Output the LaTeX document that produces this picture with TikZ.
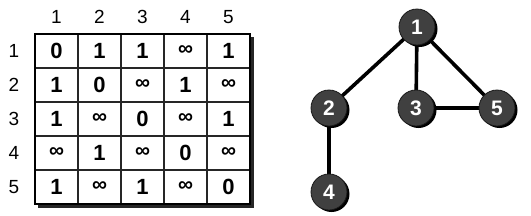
\documentclass[tikz,border=0pt]{standalone}
\usepackage{fontspec}
\setmainfont{Liberation Sans}
\begin{document}
\begin{tikzpicture}[x=1pt,y=-1pt,
  cell/.style={draw=black!85,line width=1.2pt,minimum width=43pt,minimum height=34pt,inner sep=0pt,font=\fontsize{22}{22}\selectfont\bfseries},
  lab/.style={inner sep=0pt,font=\fontsize{19}{19}\selectfont},
  vert/.style={circle,fill=black!75,draw=black!90,line width=0.8pt,minimum size=36pt,inner sep=0pt,text=white,font=\fontsize{21}{21}\selectfont\bfseries},
  vshadow/.style={circle,fill=black,minimum size=36pt,inner sep=0pt},
  edge/.style={line width=3.6pt,black}]
\useasboundingbox (0,0) rectangle (531,215);
% shadow of table
\fill[black!85] (38,37) rectangle (253.5,207.5);
\fill[white] (35,34) rectangle (250,204);
% cells
\def\inf{{\fontsize{21}{21}\selectfont ∞}}
\foreach \r/\row in {1/{0,1,1,\inf,1},2/{1,0,\inf,1,\inf},3/{1,\inf,0,\inf,1},4/{\inf,1,\inf,0,\inf},5/{1,\inf,1,\inf,0}}{
  \foreach \v [count=\c] in \row {
    \node[cell] (c\r\c) at ({35+43*(\c-0.5)},{34+34*(\r-0.5)}) {\v};
  }
}
\draw[line width=1.8pt] (35,34) rectangle (250,204);
% labels
\foreach \i in {1,...,5}{
  \node[lab] (h\i) at ({35+43*(\i-0.5)},17) {\i};
  \node[lab] (r\i) at (14,{34+34*(\i-0.5)}) {\i};
}
% graph
\coordinate (p1) at (417,27);
\coordinate (p2) at (329,108);
\coordinate (p3) at (416,108);
\coordinate (p5) at (497,108);
\coordinate (p4) at (329,192);
\draw[edge] (p1) -- (p2);
\draw[edge] (p1) -- (p3);
\draw[edge] (p1) -- (p5);
\draw[edge] (p3) -- (p5);
\draw[edge] (p2) -- (p4);
\foreach \k in {1,...,5}{
  \node[vshadow] (s\k) at ([shift={(2.5,2)}]p\k) {};
  \node[vert] (n\k) at (p\k) {\k};
}
\end{tikzpicture}
\end{document}
